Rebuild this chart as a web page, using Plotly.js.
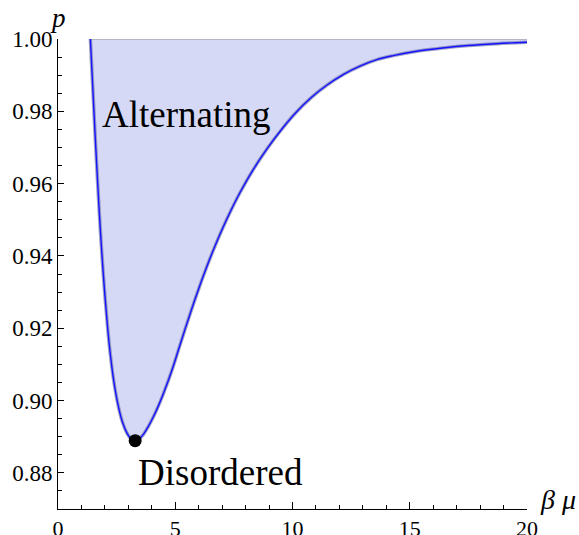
<!DOCTYPE html>
<html>
<head>
<meta charset="utf-8">
<script src="https://cdn.plot.ly/plotly-3.0.1.min.js"></script>
<style>html,body{margin:0;padding:0;background:#fff;}#chart{width:579px;height:535px;}</style>
</head>
<body>
<div id="chart"></div>
<script>
// Boundary curve between alternating and disordered phases
const betaMu = [1.38, 1.48, 1.58, 1.68, 1.77, 1.87, 2.00, 2.12, 2.23, 2.34, 2.45, 2.58, 2.75, 2.94, 3.10, 3.29, 3.45, 3.65, 3.85, 4.07, 4.30, 4.50, 4.86, 5.21, 5.64, 6.00, 6.35, 6.70, 7.06, 7.40, 7.77, 8.30, 8.91, 9.50, 10.11, 10.80, 11.46, 12.20, 12.88, 13.60, 14.30, 15.30, 16.40, 17.50, 18.70, 20.00];
const pBoundary = [1.0000, 0.9868, 0.9738, 0.9614, 0.9510, 0.9406, 0.9290, 0.9198, 0.9128, 0.9071, 0.9025, 0.8982, 0.8940, 0.8910, 0.8895, 0.8889, 0.8893, 0.8907, 0.8928, 0.8955, 0.8988, 0.9020, 0.9084, 0.9155, 0.9241, 0.9309, 0.9371, 0.9428, 0.9482, 0.9529, 0.9576, 0.9636, 0.9696, 0.9747, 0.9794, 0.9838, 0.9872, 0.9903, 0.9925, 0.9943, 0.9954, 0.9966, 0.9975, 0.9982, 0.9987, 0.9991];
const pTop = betaMu.map(() => 1.0);
const criticalX = [3.29];
const criticalP = [0.8889];
const phaseLabels = ["Alternating", "Disordered"];
const phaseLabelX = [5.5, 6.92];
const phaseLabelP = [0.9790, 0.8802];
const yTickVals = [0.88, 0.90, 0.92, 0.94, 0.96, 0.98, 1.00];
const yTickText = ["0.88", "0.90", "0.92", "0.94", "0.96", "0.98", "1.00"];
const xTickVals = [0, 5, 10, 15, 20];
const xTickText = ["0", "5", "10", "15", "20"];

const serif = "Liberation Serif";

const traces = [
  {x: betaMu, y: pTop, mode: "lines", line: {color: "rgb(170,170,175)", width: 1.5}, hoverinfo: "skip", showlegend: false},
  {x: betaMu, y: pBoundary, mode: "lines", fill: "tonexty", fillcolor: "rgb(213,217,246)",
   line: {color: "rgba(120,120,175,0.7)", width: 3.5, shape: "spline", smoothing: 1}, showlegend: false},
  {x: betaMu, y: pBoundary, mode: "lines", line: {color: "rgb(20,20,255)", width: 1.4, shape: "spline", smoothing: 1}, showlegend: false},
  {x: criticalX, y: criticalP, mode: "markers", marker: {color: "black", size: 13}, showlegend: false, cliponaxis: false}
];

const annotations = phaseLabels.map((t, i) => ({
  x: phaseLabelX[i], y: phaseLabelP[i], xref: "x", yref: "y", text: t, showarrow: false,
  font: {family: serif, size: 37, color: "black"}, xanchor: "center", yanchor: "middle"
}));
annotations.push({x: 0, y: 1.045, xref: "paper", yref: "paper", text: "<i>p</i>", showarrow: false,
  font: {family: serif, size: 27, color: "black"}, xanchor: "center", yanchor: "middle"});
annotations.push({x: 1.066, y: 0.02, xref: "paper", yref: "paper", text: "<i>β μ</i>", showarrow: false,
  font: {family: serif, size: 28, color: "black"}, xanchor: "center", yanchor: "middle"});

const layout = {
  width: 579, height: 535,
  margin: {l: 58, r: 52, t: 39, b: 26, pad: 0},
  paper_bgcolor: "white", plot_bgcolor: "white",
  font: {family: serif, size: 23, color: "black"},
  showlegend: false,
  xaxis: {
    range: [0, 20], showgrid: false, zeroline: false, showline: true, linecolor: "black", linewidth: 1,
    ticks: "inside", ticklen: 7, tickcolor: "black", tickwidth: 1,
    tickvals: xTickVals, ticktext: xTickText, ticklabelstandoff: 0,
    minor: {dtick: 1, tick0: 0, ticks: "inside", ticklen: 4, tickcolor: "black", tickwidth: 1, showgrid: false},
    tickfont: {family: serif, size: 22, color: "black"}
  },
  yaxis: {
    range: [0.87, 1.0], showgrid: false, zeroline: false, showline: true, linecolor: "black", linewidth: 1,
    ticks: "inside", ticklen: 6, tickcolor: "black", tickwidth: 1,
    tickvals: yTickVals, ticktext: yTickText, ticklabelstandoff: 0,
    minor: {dtick: 0.005, tick0: 0.87, ticks: "inside", ticklen: 4, tickcolor: "black", tickwidth: 1, showgrid: false},
    tickfont: {family: serif, size: 23, color: "black"}
  },
  annotations: annotations
};

Plotly.newPlot("chart", traces, layout, {displayModeBar: false, staticPlot: true});
</script>
</body>
</html>
